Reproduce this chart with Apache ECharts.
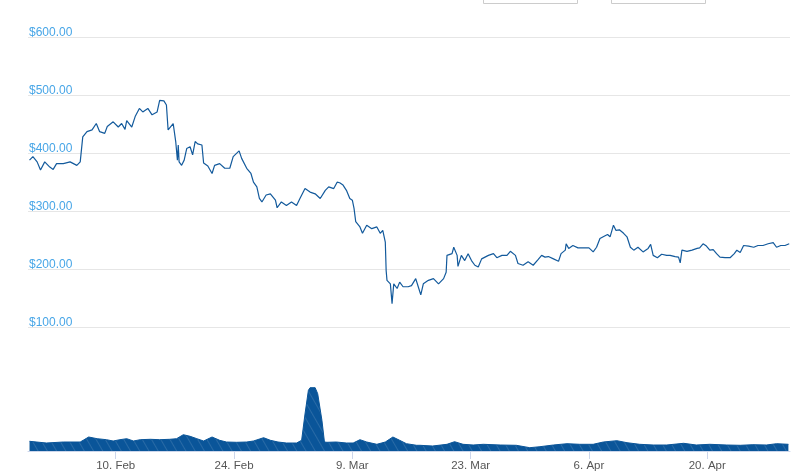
<!DOCTYPE html>
<html>
<head>
<meta charset="utf-8">
<title>Price chart</title>
<script src="https://cdn.jsdelivr.net/npm/echarts@6/dist/echarts.min.js"></script>
<style>
    html, body { margin: 0; padding: 0; background: #fff; }
    #main { width: 811px; height: 476px; }
</style>
</head>
<body>
<div id="main"></div>
<script>
// days since 1 Jan 2020 (0 = 1 Jan)
var priceDays = [29.8, 30.2, 30.7, 31.1, 31.6, 32.2, 32.6, 33.0, 33.8, 34.6, 35.4, 35.8, 36.1, 36.6, 37.2, 37.7,
    38.1, 38.7, 39.0, 39.7, 40.3, 40.7, 41.1, 41.3, 41.9, 42.3, 42.8, 43.2, 43.8, 44.3, 44.9, 45.2, 45.7, 46.0,
    46.2, 46.8, 47.1, 47.3, 47.4, 47.5, 47.8, 48.1, 48.4, 48.8, 49.1, 49.4, 49.7, 50.2, 50.4, 50.9, 51.4, 51.7,
    52.3, 52.9, 53.5, 53.9, 54.6, 54.9, 55.5, 56.0, 56.3, 56.7, 57.0, 57.3, 57.8, 58.3, 58.9, 59.1, 59.6, 60.2,
    60.8, 61.4, 61.8, 62.4, 63.0, 63.6, 64.2, 64.8, 65.2, 65.8, 66.2, 66.5, 66.9, 67.3, 67.7, 68.0, 68.2, 68.4,
    68.9, 69.2, 69.7, 70.3, 70.9, 71.3, 71.6, 71.9, 72.0, 72.1, 72.5, 72.7, 72.9, 73.3, 73.6, 74.0, 74.6, 75.0,
    75.5, 75.8, 76.1, 76.4, 77.0, 77.6, 78.2, 78.8, 79.1, 79.2, 79.8, 80.0, 80.4, 80.5, 80.9, 81.3, 81.7, 82.1,
    82.5, 82.9, 83.3, 84.1, 84.7, 85.1, 85.7, 86.3, 86.7, 87.3, 87.6, 88.2, 88.8, 89.4, 90.0, 90.4, 90.8, 91.2,
    91.8, 92.4, 92.7, 93.2, 93.3, 93.6, 94.1, 94.7, 95.3, 96.0, 96.5, 96.9, 97.3, 97.8, 98.2, 98.5, 98.9, 99.2,
    99.6, 100.1, 100.5, 100.9, 101.3, 101.8, 102.4, 103.0, 103.3, 103.6, 104.1, 104.6, 105.2, 105.6, 106.2,
    106.6, 106.8, 107.0, 107.6, 108.2, 108.8, 109.1, 109.5, 109.9, 110.3, 110.7, 111.1, 111.5, 112.1, 112.7,
    113.2, 113.5, 113.9, 114.3, 114.9, 115.5, 116.0, 116.6, 117.2, 117.8, 118.2, 118.7, 119.2, 119.7];
var priceValues = [388, 394, 385, 371, 385, 376, 372, 382, 382, 385, 379, 385, 428, 437, 440, 451,
    437, 434, 446, 454, 445, 451, 441, 456, 445, 463, 477, 471, 477, 466, 471, 491, 490, 483,
    440, 451, 420, 388, 414, 385, 379, 388, 408, 411, 397, 420, 416, 414, 383, 378, 365, 379,
    382, 374, 374, 394, 404, 391, 374, 365, 350, 342, 322, 316, 328, 330, 319, 306, 316, 310,
    316, 310, 322, 339, 333, 330, 322, 336, 342, 339, 350, 349, 345, 336, 322, 319, 305, 282,
    273, 262, 276, 270, 273, 262, 267, 247, 198, 181, 175, 141, 175, 167, 178, 170, 170, 172,
    184, 170, 156, 175, 181, 184, 175, 184, 195, 224, 227, 238, 224, 205, 224, 215, 227, 215,
    207, 204, 218, 224, 227, 220, 224, 224, 231, 224, 210, 207, 213, 207, 217, 224, 221, 222,
    218, 214, 227, 233, 244, 236, 241, 237, 237, 237, 230, 238, 253, 257, 260, 256, 276, 267,
    268, 262, 256, 238, 233, 238, 230, 236, 243, 224, 220, 226, 224, 224, 222,
    221, 211, 233, 231, 233, 236, 237, 244, 240, 233, 234, 227, 221, 220, 220,
    227, 233, 229, 241, 240, 238, 241, 241, 244, 246, 238, 241, 241, 244];

// volume (relative units)
var volumeDays = [29.8, 31.8, 33.8, 35.8, 36.2, 36.8, 37.8, 38.9, 39.7, 40.5, 41.3, 42.1, 42.9, 44.1, 45.2,
    46.4, 47.2, 48.0, 48.8, 49.6, 50.4, 51.4, 52.3, 53.1, 54.3, 55.5, 56.3, 57.5, 58.3, 59.2, 60.2, 61.4,
    62.0, 62.4, 62.8, 63.0, 63.6, 63.9, 64.4, 64.7, 65.0, 66.1, 67.3, 68.1, 68.9, 69.7, 70.9, 71.9, 72.8,
    73.6, 74.4, 75.6, 76.0, 77.5, 79.2, 80.1, 81.1, 82.3, 83.5, 85.5, 87.4, 89.0, 90.2, 91.8, 93.4, 94.9,
    96.5, 97.7, 99.3, 100.5, 102.0, 103.6, 105.2, 107.2, 108.7, 110.3, 112.3, 113.9, 115.4, 117.0, 118.2, 119.6];
var volumeValues = [9.7, 8, 9, 9, 11, 14, 12.3, 11.3, 10, 11.3, 12.3, 10, 11.3, 11.7, 11.3,
    11.7, 12.3, 16.3, 14.7, 12.3, 10, 14, 10.7, 9, 8.7, 9, 10, 13.3, 10.7, 9, 8, 8,
    10.7, 37, 60.7, 63.3, 63.3, 57.3, 30.7, 9, 8.7, 9, 8, 8, 11.3, 9, 6.7, 9, 14,
    10.7, 7.3, 5.7, 5.7, 5, 6.7, 9.3, 6.7, 6, 6.7, 6, 5.7, 3.3, 4.3, 6, 7.3, 6.7,
    6.7, 9, 10.3, 8.3, 6.7, 6, 6, 7.7, 6, 6.7, 6, 5.7, 6.3, 6, 7.3, 6.7];

var tickDays = [40, 54, 68, 82, 96, 110];
var priceTicks = [100, 200, 300, 400, 500, 600];
var monthNames = ['Jan', 'Feb', 'Mar', 'Apr', 'May', 'Jun', 'Jul', 'Aug', 'Sep', 'Oct', 'Nov', 'Dec'];

var dayMin = 29.62;
var dayMax = 119.79;

function zip(xs, ys) {
    var out = [];
    xs.forEach(function (v, i) {
        out.push([v, ys[i]]);
    });
    return out;
}

/**
 * 10. Feb
 */
function dayLabel(d) {
    var dt = new Date(Date.UTC(2020, 0, 1) + Math.round(d) * 86400000);
    return dt.getUTCDate() + '. ' + monthNames[dt.getUTCMonth()];
}

var myChart = echarts.init(document.getElementById('main'));

var option = {
    animation: false,
    backgroundColor: '#ffffff',
    aria: { enabled: true, decal: { show: true } },
    grid: [
        { left: 28, right: 21, top: 37, bottom: 148.6 },
        { left: 28, right: 21, top: 380, bottom: 25 }
    ],
    xAxis: [
        {
            type: 'value',
            gridIndex: 0,
            min: dayMin,
            max: dayMax,
            show: false
        },
        {
            type: 'value',
            gridIndex: 1,
            min: dayMin,
            max: dayMax,
            splitLine: { show: false },
            axisLine: { show: true, onZero: false, lineStyle: { color: '#ccd6eb', width: 1 } },
            axisTick: {
                show: true,
                length: 8,
                customValues: tickDays,
                lineStyle: { color: '#ccd6eb' }
            },
            axisLabel: {
                customValues: tickDays,
                margin: 9,
                color: '#555555',
                fontSize: 11.5,
                fontFamily: 'Liberation Sans, Arial, sans-serif',
                formatter: dayLabel
            }
        }
    ],
    yAxis: [
        {
            type: 'value',
            gridIndex: 0,
            min: priceTicks[0],
            max: priceTicks[priceTicks.length - 1],
            interval: 100,
            axisLine: { show: false },
            axisTick: { show: false },
            splitLine: { lineStyle: { color: '#e6e6e6', width: 1 } },
            axisLabel: {
                inside: true,
                margin: 1,
                verticalAlign: 'bottom',
                lineHeight: 9,
                padding: [0, 0, 0, 0],
                color: '#48a6e7',
                fontSize: 12,
                fontFamily: 'Liberation Sans, Arial, sans-serif',
                formatter: function (v) {
                    return '$' + v.toFixed(2);
                }
            }
        },
        {
            type: 'value',
            gridIndex: 1,
            min: 0,
            max: 71,
            show: false
        }
    ],
    series: [
        {
            name: 'Price',
            type: 'line',
            xAxisIndex: 0,
            yAxisIndex: 0,
            showSymbol: false,
            lineStyle: { color: '#135a9c', width: 1.2 },
            data: zip(priceDays, priceValues)
        },
        {
            name: 'Volume',
            type: 'line',
            xAxisIndex: 1,
            yAxisIndex: 1,
            showSymbol: false,
            lineStyle: { color: '#0a5599', width: 1 },
            itemStyle: {
                color: '#0a5599',
                decal: {
                    symbol: 'rect',
                    color: 'rgba(255,255,255,0.16)',
                    dashArrayX: [1, 0],
                    dashArrayY: [1, 7],
                    rotation: Math.PI / 3
                }
            },
            areaStyle: { color: '#0a5599', opacity: 1 },
            data: zip(volumeDays, volumeValues)
        }
    ],
    graphic: [
        { type: 'rect', shape: { x: 483.5, y: -10, width: 94, height: 13.5 }, style: { fill: '#fff', stroke: '#cccccc', lineWidth: 1 } },
        { type: 'rect', shape: { x: 611.5, y: -10, width: 94, height: 13.5 }, style: { fill: '#fff', stroke: '#cccccc', lineWidth: 1 } }
    ]
};

myChart.setOption(option, true);
</script>
</body>
</html>
